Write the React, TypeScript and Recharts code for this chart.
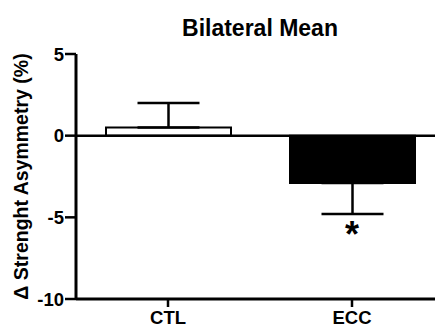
import { BarChart, Bar, XAxis, YAxis, Cell, ErrorBar, ReferenceLine, ReferenceDot, Label } from 'recharts'

const groups = ['CTL', 'ECC']
const means = [0.5, -2.9]
const errors: [number, number][] = [[0, 1.5], [1.9, 0]]
const fills = ['#ffffff', '#000000']
const yTicks = [-10, -5, 0, 5]
const starAt = { group: 'ECC', value: -5.65 }

const font = '"Liberation Sans", Arial, sans-serif'

const data = groups.map((g, i) => ({ name: g, mean: means[i], err: errors[i] }))

export default function App() {
  return (
    <div style={{ position: 'absolute', left: 0, top: 0, width: 435, height: 329, overflow: 'hidden', background: '#fff', fontFamily: font }}>
      <div style={{ position: 'absolute', left: 0, top: 15, width: 520, textAlign: 'center', fontSize: 23, fontWeight: 'bold', color: '#000' }}>
        Bilateral Mean
      </div>
      <BarChart width={444} height={329} data={data} margin={{ top: 54, right: 0, bottom: 0, left: 0 }} barSize={125}>
        <XAxis
          dataKey="name"
          height={30}
          axisLine={{ stroke: '#000', strokeWidth: 3 }}
          tickLine={{ stroke: '#000', strokeWidth: 2.5 }}
          tickSize={8}
          tickMargin={4}
          tick={{ fill: '#000', fontSize: 18.5, fontWeight: 'bold', fontFamily: font }}
        />
        <YAxis
          width={76}
          domain={[-10, 5]}
          ticks={yTicks}
          interval={0}
          axisLine={{ stroke: '#000', strokeWidth: 3 }}
          tickLine={{ stroke: '#000', strokeWidth: 2.5 }}
          tickSize={11}
          tickMargin={1}
          tick={{ fill: '#000', fontSize: 18.5, fontWeight: 'bold', fontFamily: font }}
        >
          <Label
            value="Δ Strenght Asymmetry (%)"
            angle={-90}
            position="insideLeft"
            offset={21}
            style={{ textAnchor: 'middle', fill: '#000', fontSize: 19.5, fontWeight: 'bold', fontFamily: font }}
          />
        </YAxis>
        <Bar dataKey="mean" isAnimationActive={false} stroke="#000" strokeWidth={2}>
          {data.map((_, i) => (
            <Cell key={i} fill={fills[i]} />
          ))}
          <ErrorBar dataKey="err" width={31} stroke="#000" strokeWidth={2.5} direction="y" isAnimationActive={false} />
        </Bar>
        <ReferenceLine y={0} stroke="#000" strokeWidth={2.5} />
        <ReferenceDot
          x={starAt.group}
          y={starAt.value}
          shape={(p: any) => (
            <text x={p.cx} y={p.cy + 19} textAnchor="middle" fontSize={36} fontWeight="bold" fontFamily={font} fill="#000">
              *
            </text>
          )}
        />
      </BarChart>
    </div>
  )
}
